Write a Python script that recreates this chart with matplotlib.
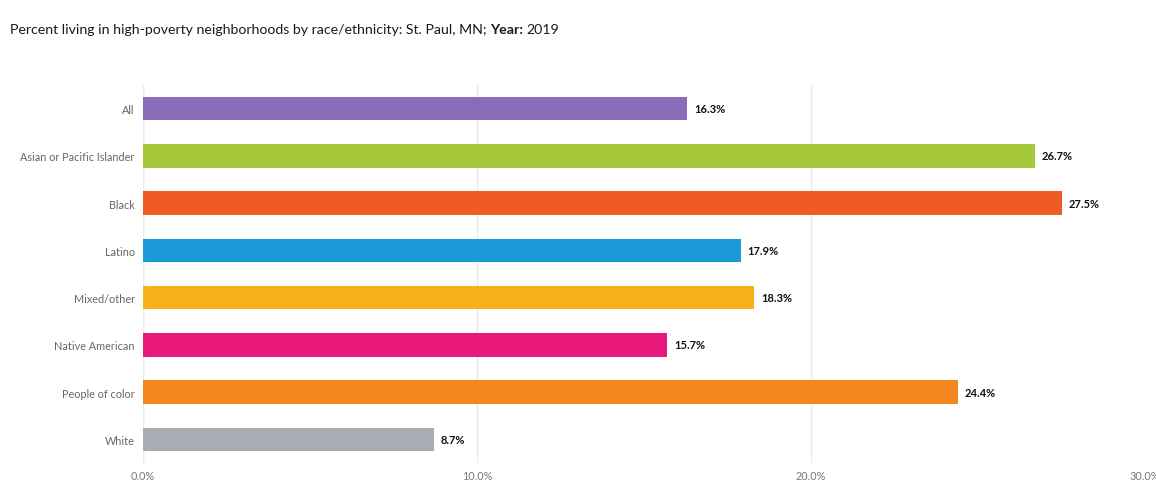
import matplotlib.pyplot as plt
from matplotlib.ticker import FuncFormatter

# data
groups = ["All", "Asian or Pacific Islander", "Black", "Latino", "Mixed/other",
          "Native American", "People of color", "White"]
values = [16.3, 26.7, 27.5, 17.9, 18.3, 15.7, 24.4, 8.7]
colors = ["#8b6cb9", "#a6c93b", "#f05a24", "#1c9ad8", "#f8b11c",
          "#e8197b", "#f5851f", "#a8acb3"]
x_ticks = [0, 10, 20, 30]

plt.rcParams['font.family'] = ['Lato', 'DejaVu Sans']

W, H = 1156, 485
fig = plt.figure(figsize=(W / 100, H / 100), dpi=100)
ax = fig.add_axes([143 / W, 1 - 464 / H, (1145 - 143) / W, (464 - 86) / H])

y = list(range(len(groups)))
ax.barh(y, values, height=0.5, color=colors, zorder=3)
ax.set_ylim(len(groups) - 0.5, -0.5)
ax.set_xlim(0, 30)

# value labels at the end of each bar
for yi, v in zip(y, values):
    ax.text(v + 0.2, yi, f"{v:.1f}%", va="center", ha="left", fontsize=8,
            fontweight="bold", color="#111111", zorder=4,
            bbox=dict(facecolor="white", edgecolor="none", pad=1.5))

ax.set_yticks(y)
ax.set_yticklabels(groups, fontsize=7.8, color="#666666")
ax.set_xticks(x_ticks)
ax.xaxis.set_major_formatter(FuncFormatter(lambda v, p: f"{v:.1f}%"))
ax.tick_params(axis="x", length=0, pad=5, labelsize=7.8, labelcolor="#777777")
ax.tick_params(axis="y", length=0, pad=6)
ax.grid(axis="x", color="#ebebeb", linewidth=1, zorder=0)
for s in ax.spines.values():
    s.set_visible(False)
ax.axvline(0, color="#e4e4e4", linewidth=1, zorder=1)

# title, with the bold "Year:" part
t = fig.text(10 / W, 1 - 30 / H, "Percent living in high-poverty neighborhoods by race/ethnicity: St. Paul, MN; ",
             fontsize=10.2, color="#1a1a1a", va="center")
t2 = fig.text(0, 0, "Year:", fontsize=10.2, fontweight="bold", color="#1a1a1a")
fig.canvas.draw()
bb = t.get_window_extent()
t2.set_position((bb.x1 / W, bb.y0 / H))
t2.set_va("bottom")
fig.canvas.draw()
bb2 = t2.get_window_extent()
fig.text(bb2.x1 / W + 3 / W, bb.y0 / H, "2019", fontsize=10.2, color="#1a1a1a", va="bottom")

fig.savefig("out.png", dpi=100)
